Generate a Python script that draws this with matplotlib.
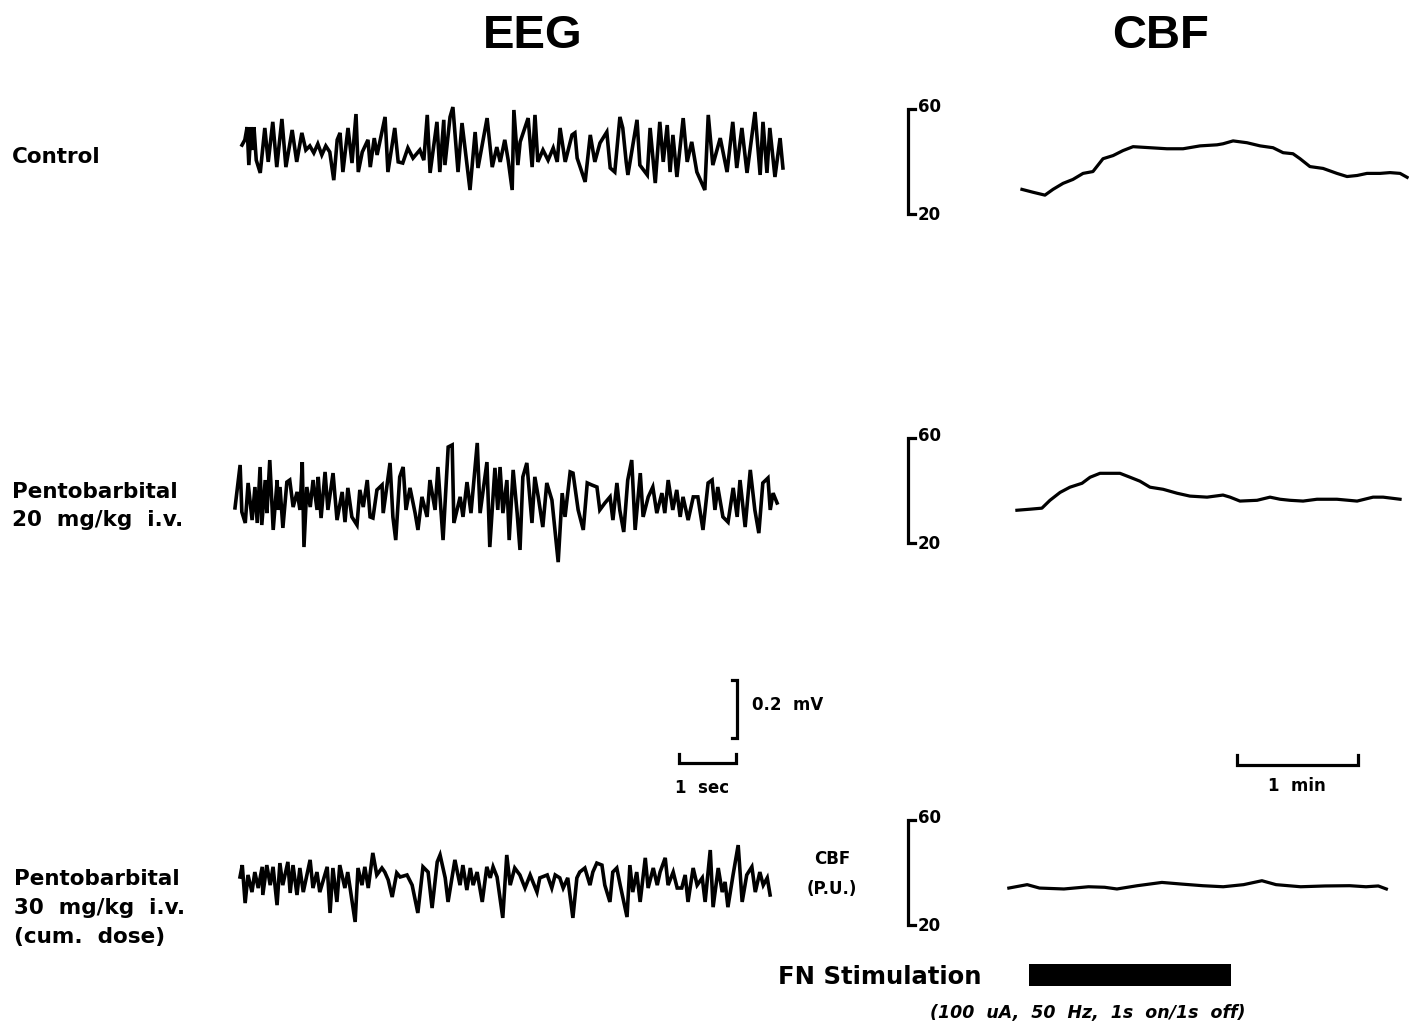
import matplotlib
matplotlib.use("Agg")
import matplotlib.pyplot as plt
from matplotlib.transforms import blended_transform_factory

# ---------------- data ----------------
row_labels = ["Control",
              "Pentobarbital\n20  mg/kg  i.v.",
              "Pentobarbital\n30  mg/kg  i.v.\n(cum.  dose)"]

# EEG traces: time (s) and amplitude (uV)
eeg_control_t = [0.00, 0.05, 0.09, 0.12, 0.16, 0.19, 0.21, 0.25, 0.32, 0.40,
                 0.46, 0.54, 0.61, 0.70, 0.77, 0.88, 0.96, 1.05, 1.12, 1.19,
                 1.26, 1.33, 1.40, 1.47, 1.54, 1.61, 1.67, 1.72, 1.77, 1.86,
                 1.93, 2.00, 2.04, 2.11, 2.21, 2.25, 2.32, 2.37, 2.51, 2.56,
                 2.68, 2.74, 2.82, 2.91, 3.00, 3.12, 3.19, 3.25, 3.30, 3.42,
                 3.47, 3.54, 3.56, 3.65, 3.70, 3.79, 3.86, 4.00, 4.09, 4.14,
                 4.30, 4.39, 4.47, 4.53, 4.61, 4.67, 4.74, 4.77, 4.84, 4.88,
                 5.02, 5.09, 5.14, 5.19, 5.28, 5.37, 5.46, 5.53, 5.58, 5.67,
                 5.79, 5.84, 5.88, 6.02, 6.11, 6.19, 6.28, 6.40, 6.46, 6.54,
                 6.63, 6.68, 6.74, 6.77, 6.93, 6.98, 7.11, 7.16, 7.25, 7.33,
                 7.39, 7.46, 7.51, 7.56, 7.63, 7.74, 7.81, 7.89, 7.98, 8.12,
                 8.18, 8.26, 8.39, 8.51, 8.61, 8.68, 8.77, 8.86, 9.00, 9.09,
                 9.14, 9.21, 9.26, 9.35, 9.44, 9.49]
eeg_control_uv = [17, 35, 79, -52, 79, 0, 79, -35, -79, 76,
                  -41, 97, -59, 107, -59, 69, -41, 59, 0, 14,
                  -10, 21, -17, 14, -7, -104, 35, 59, -76, 76,
                  -45, 124, -76, -7, 35, -59, 41, -17, 114, -76,
                  76, -41, -45, 7, -28, 0, -35, 121, -79, 97,
                  -76, 104, -52, 114, 148, -76, 93, -138, 62, -62,
                  110, -59, 10, -41, 35, -35, -138, 138, -52, 28,
                  110, -59, 121, -41, 0, -35, 7, -41, 76, -41,
                  52, 59, -28, -110, 52, -41, 24, 62, -62, -76,
                  114, 76, -41, -86, 104, -52, -86, 76, -114, 97,
                  -41, 86, -76, 52, -93, 110, -41, 28, -76, -138,
                  121, -52, 41, -76, 97, -62, 76, -79, 131, -86,
                  97, -79, 76, -93, 41, -62]

eeg_pento20_t = [0.00, 0.09, 0.12, 0.18, 0.23, 0.30, 0.35, 0.39, 0.44, 0.47,
                 0.53, 0.56, 0.61, 0.67, 0.74, 0.75, 0.79, 0.84, 0.91, 0.96,
                 1.02, 1.09, 1.14, 1.18, 1.21, 1.26, 1.32, 1.37, 1.44, 1.46,
                 1.51, 1.58, 1.63, 1.72, 1.79, 1.88, 1.93, 1.98, 2.05, 2.14,
                 2.19, 2.25, 2.32, 2.37, 2.42, 2.49, 2.58, 2.60, 2.72, 2.77,
                 2.82, 2.89, 2.95, 3.00, 3.07, 3.16, 3.21, 3.28, 3.37, 3.42,
                 3.51, 3.56, 3.65, 3.74, 3.81, 3.84, 3.95, 4.00, 4.07, 4.14,
                 4.25, 4.30, 4.42, 4.47, 4.56, 4.61, 4.65, 4.70, 4.77, 4.81,
                 4.88, 4.95, 5.00, 5.05, 5.12, 5.21, 5.26, 5.32, 5.40, 5.47,
                 5.56, 5.67, 5.74, 5.79, 5.88, 5.93, 6.02, 6.11, 6.18, 6.26,
                 6.35, 6.40, 6.49, 6.58, 6.63, 6.70, 6.75, 6.82, 6.89, 6.96,
                 7.02, 7.11, 7.16, 7.25, 7.33, 7.40, 7.49, 7.54, 7.60, 7.68,
                 7.75, 7.81, 7.86, 7.95, 8.04, 8.12, 8.21, 8.30, 8.37, 8.42,
                 8.47, 8.56, 8.65, 8.74, 8.81, 8.86, 8.95, 9.04, 9.12, 9.19,
                 9.26, 9.35, 9.39, 9.44, 9.51]
eeg_pento20_uv = [-10, 138, -24, -62, 76, -52, 62, -62, 131, -69,
                  86, -28, 155, -86, 86, -17, 62, -79, 79, 86,
                  -7, 45, -17, 148, -145, 62, -7, 86, -17, 97,
                  -45, 114, -17, 110, -52, 45, -59, 59, -41, -69,
                  52, -7, 86, -41, -45, 52, 69, -28, 145, -41,
                  -121, 97, 131, -17, 59, -28, -86, 28, -41, 86,
                  -17, 131, -121, 200, 207, -62, 28, -41, 79, -28,
                  214, -28, 148, -145, 128, -17, 131, -28, 86, -121,
                  121, -28, -155, 97, 145, -62, 97, 28, -76, 76,
                  17, -197, 41, -41, 114, 110, -17, -86, 76, 69,
                  62, -17, 7, 28, -52, 76, -17, -93, 86, 155,
                  -86, 110, -41, 28, 62, -28, 41, -28, 86, -17,
                  52, -41, 28, -52, 28, 28, -86, 76, 86, -17,
                  62, -41, -59, 59, -41, 86, -76, 121, -17, -97,
                  76, 93, -17, 41, 7]

eeg_pento30_t = [0.00, 0.04, 0.09, 0.14, 0.21, 0.26, 0.32, 0.39, 0.40, 0.47,
                 0.53, 0.58, 0.65, 0.70, 0.75, 0.84, 0.88, 0.93, 1.00, 1.05,
                 1.11, 1.23, 1.28, 1.35, 1.40, 1.53, 1.58, 1.63, 1.70, 1.75,
                 1.84, 1.89, 2.02, 2.07, 2.14, 2.19, 2.25, 2.33, 2.40, 2.49,
                 2.54, 2.60, 2.67, 2.75, 2.81, 2.93, 3.02, 3.12, 3.21, 3.30,
                 3.37, 3.46, 3.51, 3.60, 3.65, 3.77, 3.86, 3.91, 3.98, 4.04,
                 4.09, 4.16, 4.25, 4.33, 4.39, 4.44, 4.51, 4.61, 4.68, 4.74,
                 4.82, 4.91, 5.00, 5.09, 5.21, 5.26, 5.39, 5.47, 5.53, 5.61,
                 5.67, 5.75, 5.84, 5.91, 5.96, 6.05, 6.14, 6.19, 6.26, 6.35,
                 6.40, 6.49, 6.54, 6.61, 6.67, 6.79, 6.84, 6.89, 6.96, 7.02,
                 7.11, 7.16, 7.25, 7.32, 7.37, 7.46, 7.51, 7.60, 7.67, 7.75,
                 7.81, 7.86, 7.95, 8.02, 8.11, 8.16, 8.25, 8.30, 8.39, 8.46,
                 8.51, 8.56, 8.65, 8.74, 8.81, 8.89, 8.98, 9.04, 9.12, 9.18,
                 9.25, 9.30]
eeg_pento30_uv = [0, 41, -90, 7, -52, 17, -38, 35, -62, 41,
                  -28, 35, -97, 48, -28, 52, -55, 41, -62, 31,
                  -52, 59, -38, 17, -52, 35, -124, 31, -86, 41,
                  -38, 17, -155, 31, -28, 35, -38, 83, 7, 31,
                  17, -10, -69, 14, 0, 7, -28, -124, 35, 17,
                  -107, 52, 76, -3, -86, 59, -28, 41, -45, 31,
                  -28, 17, -86, 35, -3, 35, 0, -141, 76, -28,
                  31, 7, -38, 7, -52, -3, 7, -38, 7, -3,
                  -38, -3, -141, -3, 17, 31, -28, 17, 48, 41,
                  -28, -86, 17, 31, -28, -138, 41, -52, 17, -86,
                  66, -38, 31, -28, 17, 66, -28, 17, -38, -38,
                  7, -86, 31, -28, -3, -86, 93, -104, 31, -52,
                  -17, -104, 7, 110, -86, 7, 35, -52, 17, -28,
                  -3, -62]

# CBF traces: time (s, relative to FN stimulation onset) and flow (P.U.)
cbf_control_t = [-3.5, 2.0, 7.9, 11.9, 16.9, 21.8, 26.8, 31.7, 36.7, 41.7,
                 46.6, 51.6, 60.0, 68.4, 76.4, 84.8, 93.2, 96.2, 101.2, 108.1,
                 114.6, 121.0, 126.0, 130.9, 134.4, 139.3, 145.8, 152.7, 157.7, 162.7,
                 167.6, 174.1, 179.0, 184.0, 187.5]
cbf_control_pu = [29.4, 28.3, 27.2, 29.4, 31.7, 33.2, 35.5, 36.2, 41.1, 42.3,
                  44.2, 45.7, 45.3, 44.9, 44.9, 46.0, 46.4, 46.8, 47.9, 47.2,
                  46.0, 45.3, 43.4, 43.0, 41.1, 38.1, 37.4, 35.5, 34.3, 34.7,
                  35.5, 35.5, 35.8, 35.5, 34.0]

cbf_pento20_t = [-6.0, 0.5, 6.4, 10.4, 15.4, 20.3, 26.3, 30.3, 35.2, 40.2,
                 45.1, 50.1, 55.0, 60.0, 66.5, 73.4, 79.8, 88.3, 96.2, 99.7,
                 104.6, 113.1, 119.5, 124.5, 129.4, 135.9, 142.8, 152.7, 162.7, 170.6,
                 175.6, 184.0]
cbf_pento20_pu = [32.5, 32.9, 33.3, 36.3, 39.3, 41.3, 42.8, 45.1, 46.6, 46.6,
                  46.6, 45.1, 43.6, 41.3, 40.5, 39.0, 37.9, 37.5, 38.3, 37.5,
                  36.0, 36.3, 37.5, 36.7, 36.3, 36.0, 36.7, 36.7, 36.0, 37.5,
                  37.5, 36.7]

cbf_pento30_t = [-10.0, -0.9, 5.2, 17.3, 29.5, 37.5, 43.6, 53.7, 65.9, 76.0,
                 86.1, 96.3, 106.4, 115.5, 122.5, 134.7, 146.8, 159.0, 167.1, 173.2,
                 177.2]
cbf_pento30_pu = [34.1, 35.4, 34.1, 33.75, 34.6, 34.4, 33.75, 35.0, 36.25, 35.6,
                  35.0, 34.6, 35.4, 36.9, 35.4, 34.6, 34.9, 35.0, 34.6, 34.9,
                  33.75]

cbf_range_pu = [20, 60]
stim_onset_s = 0
stim_duration_s = 100
eeg_bar_s = 1
eeg_bar_uv = 200
cbf_bar_s = 60

# ---------------- layout ----------------
W, H = 1409, 1028
fig = plt.figure(figsize=(W / 100, H / 100), dpi=100)
fig.patch.set_facecolor("white")

BOLD = dict(family="DejaVu Sans", fontweight="bold", color="black")
TITLE = dict(family=["Liberation Sans Narrow", "Liberation Sans"],
             fontweight="bold", color="black")
LW = 2.3
EEG_LW = 2.6

EEG_PX_S = 57.0      # pixels per second
EEG_PX_UV = 0.29     # pixels per microvolt
CBF_PX_S = 121 / 60  # pixels per second
CBF_PX_PU = 2.62     # pixels per perfusion unit


def fx(x):
    return x / W


def fy(y):
    return 1 - y / H


def px_axes(left, top, width, height):
    ax = fig.add_axes([left / W, 1 - (top + height) / H, width / W, height / H])
    ax.set_axis_off()
    return ax


def eeg_axes(x0, y0, left=-15, right=560, half=85):
    ax = px_axes(x0 + left, y0 - half, right - left, 2 * half)
    ax.set_xlim(left / EEG_PX_S, right / EEG_PX_S)
    ax.set_ylim(-half / EEG_PX_UV, half / EEG_PX_UV)
    return ax


CBF_LEFT, CBF_RIGHT, CBF_ZERO = 895, 1409, 1029


def cbf_xlim():
    return ((CBF_LEFT - CBF_ZERO) / CBF_PX_S, (CBF_RIGHT - CBF_ZERO) / CBF_PX_S)


def cbf_axes(y20):
    lo, hi = 15, 66
    ax = px_axes(CBF_LEFT, y20 - (hi - 20) * CBF_PX_PU, CBF_RIGHT - CBF_LEFT,
                 (hi - lo) * CBF_PX_PU)
    ax.set_xlim(*cbf_xlim())
    ax.set_ylim(lo, hi)
    return ax


# titles
fig.text(fx(533), fy(36), "EEG", ha="center", va="center", fontsize=34, **TITLE)
fig.text(fx(1161), fy(36), "CBF", ha="center", va="center", fontsize=34, **TITLE)

# row labels
label_pos = [(12, 157), (12, 506), (14, 908)]
label_spacing = [1.45, 1.45, 1.55]
for lab, (x, y), ls in zip(row_labels, label_pos, label_spacing):
    fig.text(fx(x), fy(y), lab, ha="left", va="center", fontsize=15.5,
             linespacing=ls, **BOLD)

# EEG traces
eeg_rows = [(242, 150, eeg_control_t, eeg_control_uv),
            (235, 505, eeg_pento20_t, eeg_pento20_uv),
            (240, 877, eeg_pento30_t, eeg_pento30_uv)]
for x0, y0, t, v in eeg_rows:
    ax = eeg_axes(x0, y0)
    ax.plot(t, v, color="black", lw=EEG_LW, solid_joinstyle="miter")

# EEG calibration: 1 s and 0.2 mV
axs = eeg_axes(679, 763, left=-30, right=160, half=110)
tick_uv = 9 / EEG_PX_UV
axs.plot([0, 0, eeg_bar_s, eeg_bar_s], [tick_uv, 0, 0, tick_uv],
         color="black", lw=LW, solid_joinstyle="miter")
vb_x = 58 / EEG_PX_S
vb_lo = 25 / EEG_PX_UV
vb_tick = 5 / EEG_PX_S
axs.plot([vb_x - vb_tick, vb_x, vb_x, vb_x - vb_tick],
         [vb_lo, vb_lo, vb_lo + eeg_bar_uv, vb_lo + eeg_bar_uv],
         color="black", lw=LW, solid_joinstyle="miter")
fig.text(fx(752), fy(705), "0.2  mV", ha="left", va="center", fontsize=12, **BOLD)
fig.text(fx(702), fy(788), "1  sec", ha="center", va="center", fontsize=12, **BOLD)

# CBF traces with their P.U. brackets
cbf_rows = [(214, cbf_control_t, cbf_control_pu),
            (543, cbf_pento20_t, cbf_pento20_pu),
            (925, cbf_pento30_t, cbf_pento30_pu)]
for y20, t, pu in cbf_rows:
    ax = cbf_axes(y20)
    ax.plot(t, pu, color="black", lw=LW)
    tr = blended_transform_factory(ax.transAxes, ax.transData)
    bx = (908 - CBF_LEFT) / (CBF_RIGHT - CBF_LEFT)
    bt = (915 - CBF_LEFT) / (CBF_RIGHT - CBF_LEFT)
    lo, hi = cbf_range_pu
    ax.plot([bt, bx, bx, bt], [hi, hi, lo, lo], transform=tr, color="black",
            lw=LW, solid_joinstyle="miter", clip_on=False)
    lx = (918 - CBF_LEFT) / (CBF_RIGHT - CBF_LEFT)
    ax.text(lx, hi + 1, str(hi), transform=tr, ha="left", va="center",
            fontsize=12, **BOLD)
    ax.text(lx, lo - 0.5, str(lo), transform=tr, ha="left", va="center",
            fontsize=12, **BOLD)

fig.text(fx(832), fy(874), "CBF\n(P.U.)", ha="center", va="center",
         fontsize=12, linespacing=1.9, **BOLD)

# 1 min calibration bar
axm = px_axes(CBF_LEFT, 745, CBF_RIGHT - CBF_LEFT, 30)
axm.set_xlim(*cbf_xlim())
axm.set_ylim(-10, 20)
m0 = (1237 - CBF_ZERO) / CBF_PX_S
axm.plot([m0, m0, m0 + cbf_bar_s, m0 + cbf_bar_s], [10, 0, 0, 10],
         color="black", lw=LW, solid_joinstyle="miter")
fig.text(fx(1297), fy(786), "1  min", ha="center", va="center", fontsize=12, **BOLD)

# FN stimulation period
axb = px_axes(CBF_LEFT, 964, CBF_RIGHT - CBF_LEFT, 22)
axb.set_xlim(*cbf_xlim())
axb.set_ylim(-0.5, 0.5)
axb.barh(0, stim_duration_s, left=stim_onset_s, height=1.0, color="black")
fig.text(fx(778), fy(977), "FN Stimulation", ha="left", va="center",
         fontsize=17.5, **BOLD)
fig.text(fx(930), fy(1013), "(100  uA,  50  Hz,  1s  on/1s  off)", ha="left",
         va="center", fontsize=12.5, style="italic", **BOLD)

fig.savefig("out.png", dpi=100, facecolor="white")
